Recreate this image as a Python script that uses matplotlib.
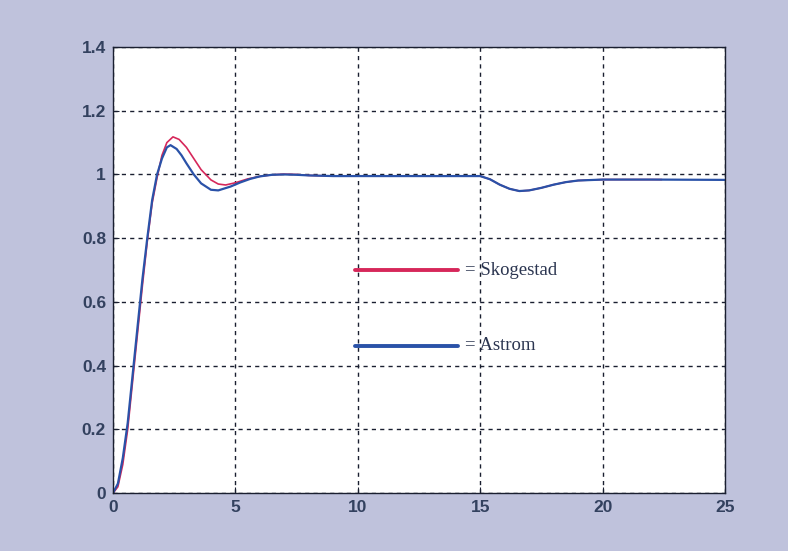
import matplotlib
matplotlib.use("Agg")
import matplotlib.pyplot as plt

# Astrom (blue) response
t_astrom = [0, 0.2, 0.4, 0.6, 0.8, 1.0, 1.2, 1.4, 1.6, 1.8, 2.0, 2.2, 2.35, 2.6, 2.8, 3.0,
            3.3, 3.6, 4.0, 4.3, 4.8, 5.2, 5.6, 6.0, 6.5, 7.0, 7.5, 8.0, 9.0, 10, 12, 14, 15,
            15.4, 15.8, 16.2, 16.6, 17.0, 17.5, 18.0, 18.5, 19, 20, 22, 25]
y_astrom = [0, 0.03, 0.11, 0.22, 0.37, 0.52, 0.67, 0.80, 0.92, 1.0, 1.05, 1.085, 1.092, 1.08, 1.06, 1.035,
            1.0, 0.972, 0.952, 0.95, 0.962, 0.975, 0.986, 0.994, 0.999, 1.0, 0.999, 0.997, 0.995, 0.995, 0.995, 0.995, 0.995,
            0.985, 0.968, 0.955, 0.948, 0.950, 0.958, 0.968, 0.976, 0.981, 0.984, 0.984, 0.983]

# Skogestad (red) response
t_skog = [0, 0.2, 0.4, 0.6, 0.8, 1.0, 1.2, 1.4, 1.6, 1.8, 2.0, 2.2, 2.45, 2.7, 3.0, 3.3,
          3.6, 4.0, 4.3, 4.6, 5.0, 5.5, 6.0, 6.5, 7.0, 7.5, 8.0, 9.0, 10, 12, 14, 15,
          15.4, 15.8, 16.2, 16.6, 17.0, 17.5, 18.0, 18.5, 19, 20, 22.4]
y_skog = [0, 0.02, 0.09, 0.20, 0.35, 0.50, 0.65, 0.79, 0.91, 0.99, 1.06, 1.10, 1.118, 1.11, 1.085, 1.05,
          1.015, 0.983, 0.970, 0.967, 0.974, 0.986, 0.994, 0.999, 1.001, 1.0, 0.997, 0.995, 0.995, 0.995, 0.995, 0.995,
          0.985, 0.968, 0.955, 0.948, 0.950, 0.958, 0.968, 0.976, 0.981, 0.984, 0.984]

x_ticks = [0, 5, 10, 15, 20, 25]
y_ticks = [0, 0.2, 0.4, 0.6, 0.8, 1.0, 1.2, 1.4]
y_tick_labels = ["0", "0.2", "0.4", "0.6", "0.8", "1", "1.2", "1.4"]
legend_names = ["= Skogestad", "= Astrom"]

red = "#d6275a"
blue = "#2a52a8"
bg = "#bfc2dc"
txt = "#33415f"

fig = plt.figure(figsize=(7.88, 5.51), dpi=100, facecolor=bg)
ax = fig.add_axes([0.1434, 0.105, 0.7766, 0.8097])
ax.set_facecolor("white")

ax.plot(t_skog, y_skog, color=red, lw=1.2)
ax.plot(t_astrom, y_astrom, color=blue, lw=1.6)

# manual legend inside the axes
ax.plot([9.9, 14.1], [0.70, 0.70], color=red, lw=2.8, solid_capstyle="round")
ax.plot([9.9, 14.1], [0.463, 0.463], color=blue, lw=2.8, solid_capstyle="round")
ax.text(14.4, 0.70, legend_names[0], family="Liberation Serif", fontsize=13.5,
        color="#2b3550", va="center", ha="left")
ax.text(14.4, 0.463, legend_names[1], family="Liberation Serif", fontsize=13.5,
        color="#2b3550", va="center", ha="left")

ax.set_xlim(0, 25)
ax.set_ylim(0, 1.4)
ax.set_xticks(x_ticks)
ax.set_xticklabels([str(v) for v in x_ticks])
ax.set_yticks(y_ticks)
ax.set_yticklabels(y_tick_labels)
ax.grid(True, color="#1a1f30", linestyle=(0, (3, 3)), linewidth=1.0)
ax.tick_params(direction="in", length=4, colors="#1a1f30", labelcolor=txt,
               labelsize=12.5, pad=5)
for lab in ax.get_xticklabels() + ax.get_yticklabels():
    lab.set_family("Liberation Sans")
    lab.set_fontweight("bold")
for s in ax.spines.values():
    s.set_color("#1a1f30")
    s.set_linewidth(1.0)

fig.savefig("out.png", dpi=100, facecolor=bg)
